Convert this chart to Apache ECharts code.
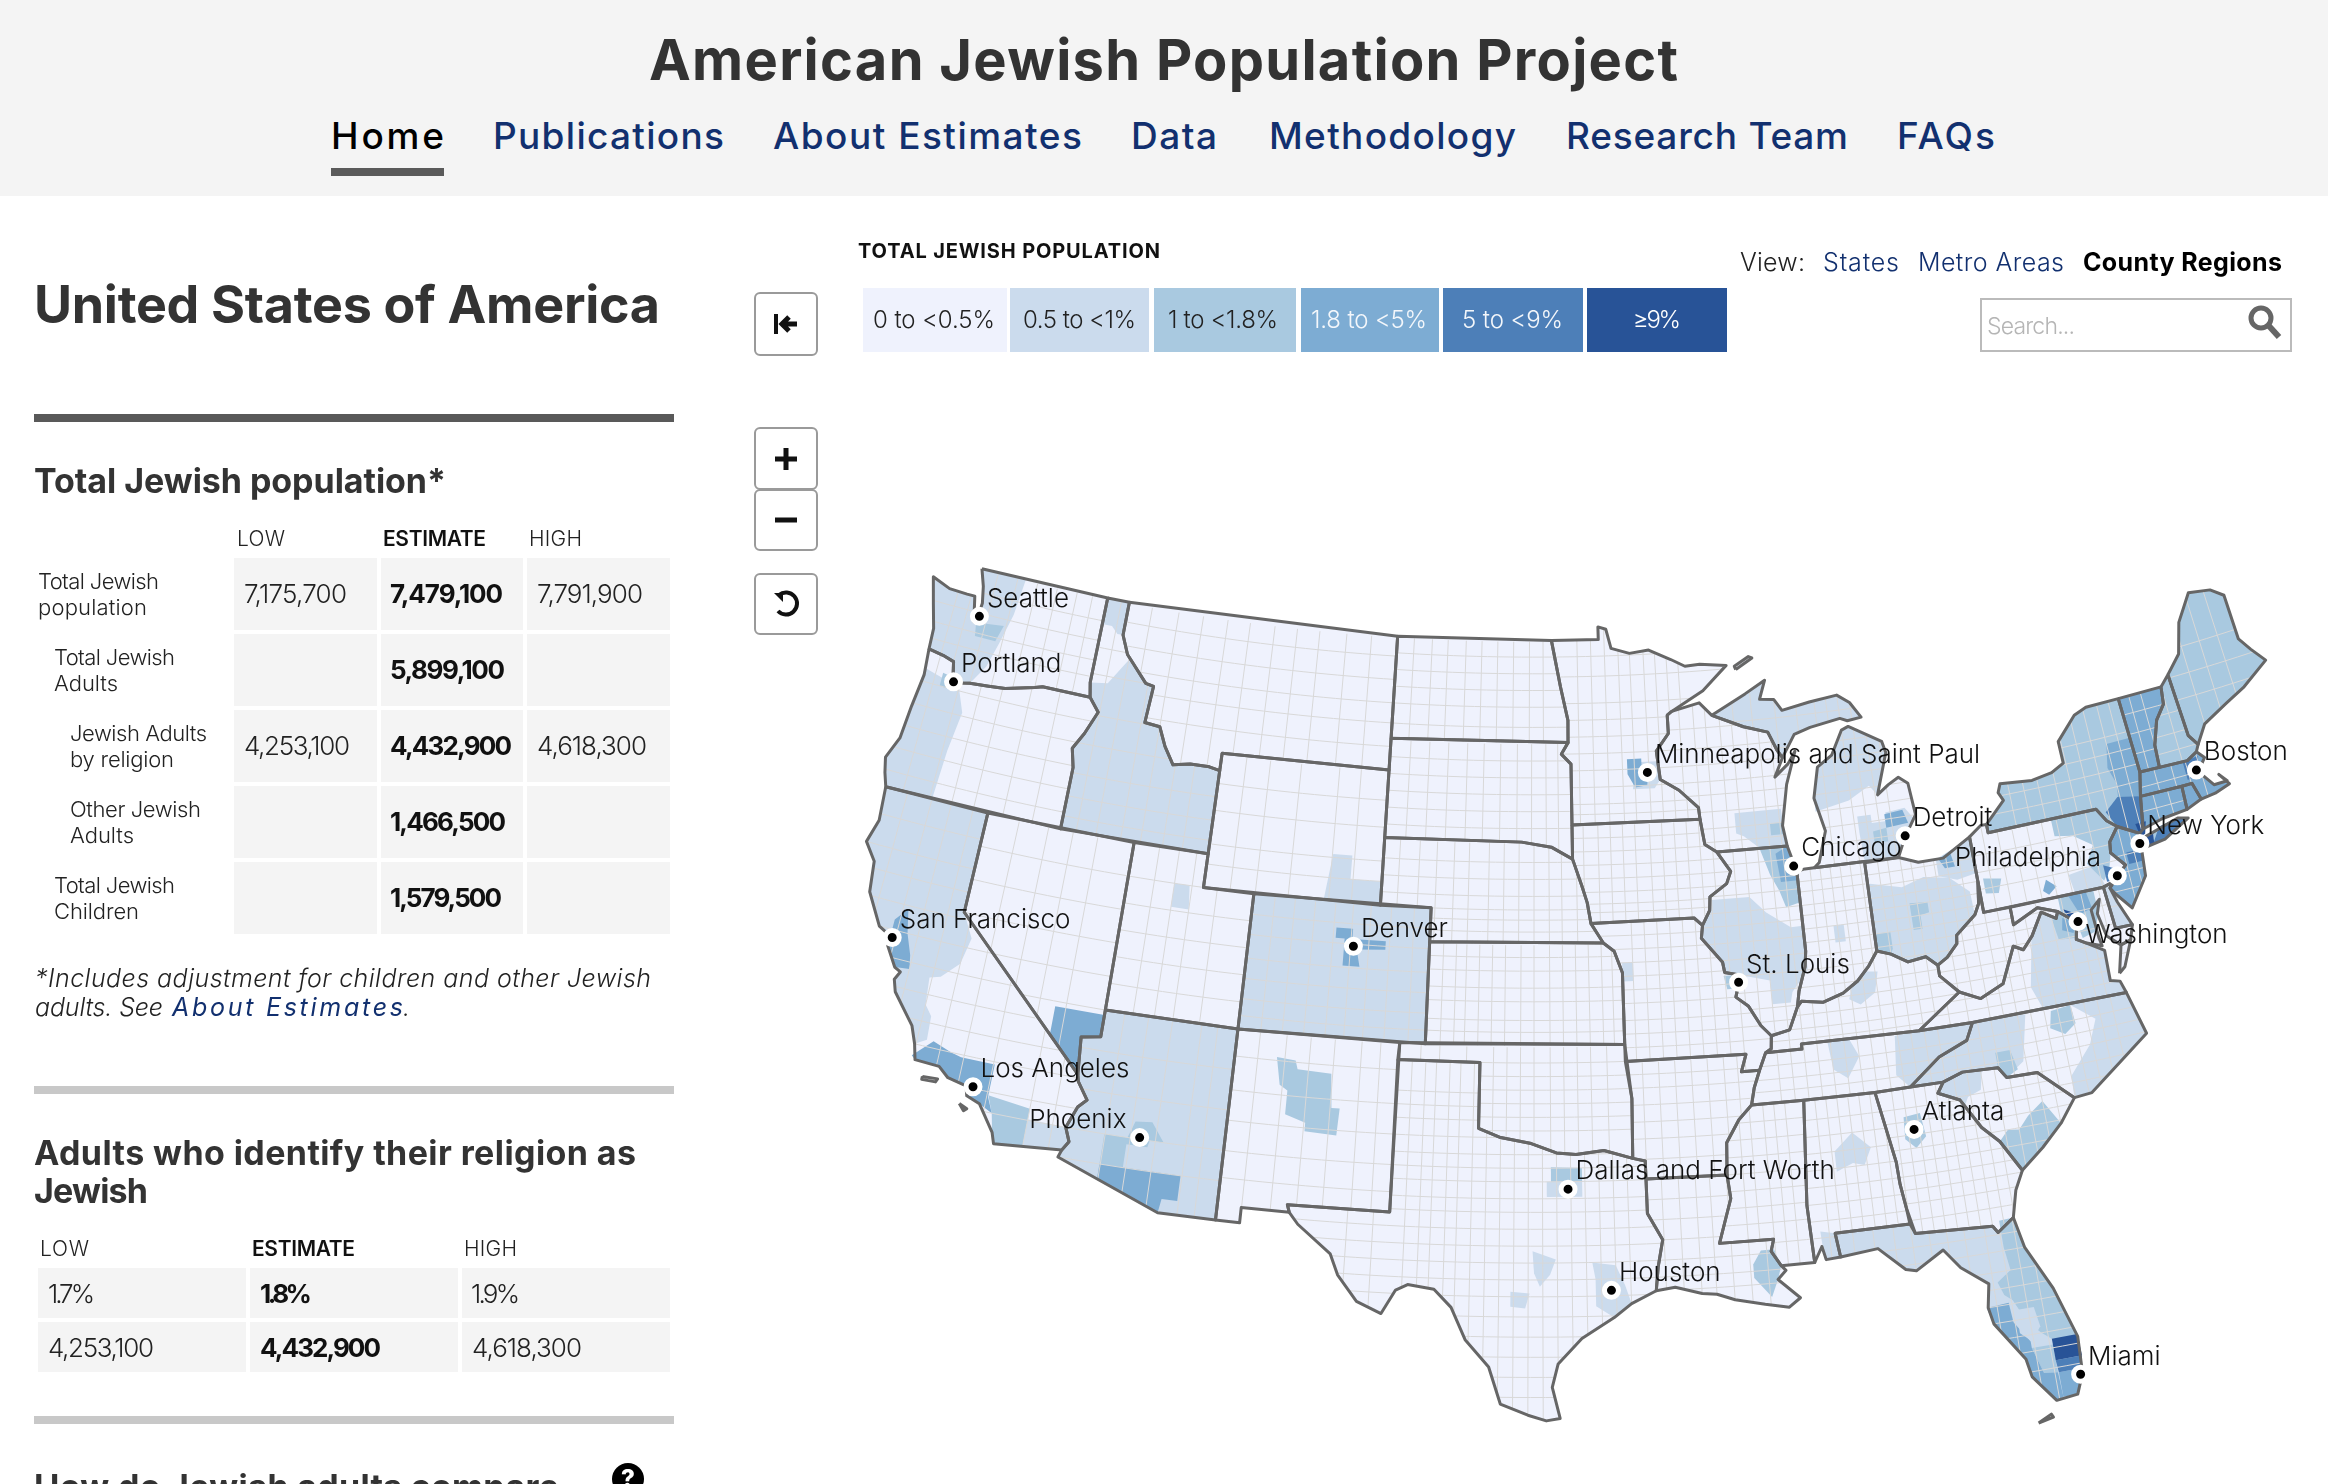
<!doctype html>
<html>
<head>
<meta charset="UTF-8">
<title>American Jewish Population Project</title>
<script src="https://cdn.jsdelivr.net/npm/echarts@6/dist/echarts.min.js"></script>
<style>
html,body{margin:0;padding:0;background:#fff;width:2328px;height:1484px;overflow:hidden;font-family:Inter,"Noto Sans",sans-serif;}
#map{position:absolute;left:0;top:0;width:2328px;height:1484px;}
#page{position:absolute;left:0;top:0;width:2328px;height:1484px;overflow:hidden;pointer-events:none;}
.box{position:absolute;}
.t{position:absolute;white-space:nowrap;transform:translateY(-50%);line-height:1.2;}
.btn{position:absolute;border:2px solid #9a9a9a;border-radius:6px;box-sizing:border-box;background:#fff;display:flex;align-items:center;justify-content:center;}
</style>
</head>
<body>
<div id="map"></div>
<div id="page"></div>
<script>
// state outlines, [lon, lat]
const WA=[[-122.76,49],[-117.03,49],[-117.04,46.42],[-116.92,45.99],[-118.98,46],[-119.3,45.93],[-120.5,45.7],[-121.2,45.65],[-122,45.6],[-122.3,45.55],[-122.75,45.65],[-122.9,46.1],[-123.4,46.2],[-124.05,46.27],[-124.1,46.9],[-124.4,47.6],[-124.73,48.38],[-123.9,48.17],[-123.1,48.15],[-122.75,48.15],[-122.5,47.4],[-122.4,47.5],[-122.35,48],[-122.5,48.5]];
const OR=[[-124.05,46.27],[-123.4,46.2],[-122.9,46.1],[-122.75,45.65],[-122.3,45.55],[-122,45.6],[-121.2,45.65],[-120.5,45.7],[-119.3,45.93],[-118.98,46],[-116.92,45.99],[-116.46,45.6],[-116.85,44.9],[-117.22,44.4],[-117.03,43.85],[-117.03,42],[-124.21,42],[-124.4,42.4],[-124.55,42.84],[-124.2,43.5],[-124.1,44.5],[-123.95,45.5]];
const CA=[[-124.21,42],[-120,42],[-120,39],[-114.63,35],[-114.57,34.8],[-114.14,34.3],[-114.43,34.05],[-114.72,33.4],[-114.52,33],[-114.72,32.72],[-117.12,32.53],[-117.25,32.85],[-117.9,33.6],[-118.4,33.75],[-118.5,34.03],[-119.2,34.15],[-119.6,34.42],[-120.5,34.45],[-120.65,34.9],[-120.9,35.4],[-121.8,36.25],[-121.95,36.6],[-121.8,36.85],[-122.05,36.95],[-122.5,37.5],[-122.5,37.8],[-123,38],[-123.7,38.9],[-123.85,39.8],[-124.35,40.3],[-124.1,41]];
const CA_IS1=[[-120.1,34.02],[-119.55,34.05],[-119.6,33.95],[-120.1,33.93]];
const CA_IS2=[[-118.6,33.48],[-118.3,33.38],[-118.4,33.3]];
const NV=[[-120,42],[-114.04,42],[-114.04,36.2],[-114.75,36.1],[-114.63,35],[-120,39]];
const ID=[[-117.03,49],[-116.05,49],[-116.05,48],[-115.7,47.45],[-114.7,46.7],[-114.35,46.65],[-114.45,45.55],[-113.8,45.5],[-113.45,44.95],[-113,44.45],[-112.3,44.55],[-111.5,44.55],[-111.05,44.48],[-111.05,42],[-117.03,42],[-117.03,43.85],[-117.22,44.4],[-116.85,44.9],[-116.46,45.6],[-116.92,45.99],[-117.04,46.42]];
const MT=[[-116.05,49],[-104.05,49],[-104.05,45],[-111.05,45],[-111.05,44.48],[-111.5,44.55],[-112.3,44.55],[-113,44.45],[-113.45,44.95],[-113.8,45.5],[-114.45,45.55],[-114.35,46.65],[-114.7,46.7],[-115.7,47.45],[-116.05,48]];
const WY=[[-111.05,45],[-104.05,45],[-104.05,41],[-111.05,41]];
const UT=[[-114.04,42],[-111.05,42],[-111.05,41],[-109.05,41],[-109.05,37],[-114.04,37]];
const CO=[[-109.05,41],[-102.05,41],[-102.05,37],[-109.05,37]];
const AZ=[[-114.04,37],[-109.05,37],[-109.05,31.33],[-111.07,31.33],[-114.81,32.5],[-114.72,32.72],[-114.52,33],[-114.72,33.4],[-114.43,34.05],[-114.14,34.3],[-114.57,34.8],[-114.63,35],[-114.75,36.1],[-114.04,36.2]];
const NM=[[-109.05,37],[-103,37],[-103.04,32],[-106.62,32],[-106.53,31.78],[-108.21,31.78],[-108.21,31.33],[-109.05,31.33]];
const ND=[[-104.05,49],[-97.23,49],[-96.85,47.6],[-96.55,46.6],[-96.56,45.94],[-104.05,45.94]];
const SD=[[-104.05,45.94],[-96.56,45.94],[-96.85,45.6],[-96.45,45.3],[-96.45,43.5],[-96.45,42.49],[-97.3,42.85],[-98.5,43],[-104.05,43]];
const NE=[[-104.05,43],[-98.5,43],[-97.3,42.85],[-96.45,42.49],[-96.1,41.7],[-95.9,41.2],[-95.77,40.58],[-95.31,40],[-102.05,40],[-102.05,41],[-104.05,41]];
const KS=[[-102.05,40],[-95.31,40],[-94.9,39.75],[-94.61,39.11],[-94.62,37],[-102.05,37]];
const OK=[[-103,37],[-94.62,37],[-94.43,35.4],[-94.48,33.64],[-95.5,33.9],[-96.5,33.8],[-97.2,33.85],[-98.1,34.13],[-99.2,34.3],[-100,34.56],[-100,36.5],[-103.04,36.5]];
const TX=[[-103.04,36.5],[-100,36.5],[-100,34.56],[-99.2,34.3],[-98.1,34.13],[-97.2,33.85],[-96.5,33.8],[-95.5,33.9],[-94.48,33.64],[-94.04,33.55],[-94.04,33.02],[-94.04,32],[-93.55,31.2],[-93.75,30.4],[-93.85,29.7],[-94.7,29.35],[-95.3,28.95],[-96.4,28.35],[-97.2,27.6],[-97.4,26.9],[-97.15,25.97],[-97.6,25.9],[-98.2,26.07],[-99.1,26.4],[-99.5,27.5],[-100.3,28.3],[-100.8,29.25],[-101.4,29.77],[-102.3,29.88],[-102.7,29.7],[-103.15,28.98],[-104,29.3],[-104.7,30.05],[-105,30.65],[-106.2,31.45],[-106.53,31.78],[-106.62,32],[-103.04,32]];
const MN=[[-97.23,49],[-95.15,49],[-95.15,49.38],[-94.8,49.3],[-94.6,48.72],[-93.8,48.55],[-92.95,48.62],[-92,48.3],[-91.4,48.07],[-90.75,48.1],[-89.6,48],[-90.7,47.3],[-92.1,46.75],[-92.3,46.65],[-92.3,46.1],[-92.85,45.6],[-92.75,44.75],[-92,44.4],[-91.25,43.85],[-91.22,43.5],[-96.45,43.5],[-96.45,45.3],[-96.85,45.6],[-96.56,45.94],[-96.55,46.6],[-96.85,47.6]];
const IA=[[-96.45,43.5],[-91.22,43.5],[-91.1,42.75],[-90.64,42.5],[-90.15,41.9],[-90.35,41.55],[-91.05,41.2],[-91.1,40.8],[-91.42,40.38],[-91.73,40.61],[-95.77,40.58],[-95.9,41.2],[-96.1,41.7],[-96.45,42.49]];
const MO=[[-95.77,40.58],[-91.73,40.61],[-91.42,40.38],[-91.5,40],[-90.75,39.25],[-90.7,38.95],[-90.2,38.85],[-90.2,38.6],[-90.35,38.2],[-89.9,37.9],[-89.5,37.3],[-89.15,36.98],[-89.2,36.6],[-89.42,36.5],[-89.7,36],[-90.37,36],[-90.15,36.5],[-94.62,36.5],[-94.62,37],[-94.61,39.11],[-94.9,39.75],[-95.31,40]];
const AR=[[-94.62,36.5],[-90.15,36.5],[-90.37,36],[-89.7,36],[-89.95,35.5],[-90.1,35],[-90.6,34.6],[-91.1,33.95],[-91.17,33],[-94.04,33.02],[-94.04,33.55],[-94.48,33.64],[-94.43,35.4]];
const LA=[[-94.04,33.02],[-91.17,33],[-91.1,32.3],[-91.6,31],[-89.73,31],[-89.85,30.65],[-89.55,30.2],[-89.4,30.05],[-89.7,29.8],[-89,29.2],[-89.4,28.95],[-90.2,29.1],[-91.2,29.3],[-91.8,29.5],[-92.3,29.55],[-93.2,29.78],[-93.85,29.7],[-93.75,30.4],[-93.55,31.2],[-94.04,32]];
const WI=[[-92.3,46.65],[-92.1,46.75],[-90.9,46.95],[-90.4,46.55],[-89.1,46.13],[-88.1,45.9],[-87.8,45.35],[-87.6,45.1],[-88,44.55],[-87.4,44.9],[-87.05,45.25],[-87.55,44.3],[-87.9,43.1],[-87.8,42.49],[-90.64,42.5],[-91.1,42.75],[-91.22,43.5],[-91.25,43.85],[-92,44.4],[-92.75,44.75],[-92.85,45.6],[-92.3,46.1]];
const IL=[[-90.64,42.5],[-87.8,42.49],[-87.53,41.72],[-87.53,39.35],[-87.62,38.9],[-87.95,38.2],[-88.07,37.75],[-88.45,37.1],[-89.15,36.98],[-89.5,37.3],[-89.9,37.9],[-90.35,38.2],[-90.2,38.6],[-90.2,38.85],[-90.7,38.95],[-90.75,39.25],[-91.5,40],[-91.42,40.38],[-91.1,40.8],[-91.05,41.2],[-90.35,41.55],[-90.15,41.9]];
const IN=[[-87.53,41.72],[-87.2,41.76],[-86.82,41.76],[-84.81,41.76],[-84.82,39.1],[-85.2,38.7],[-85.7,38.3],[-86.3,38],[-87.1,37.8],[-87.9,37.9],[-88.07,37.75],[-87.95,38.2],[-87.62,38.9],[-87.53,39.35]];
const OH=[[-84.81,41.72],[-83.45,41.73],[-82.7,41.5],[-81.7,41.5],[-80.52,41.98],[-80.52,40.64],[-80.65,40],[-80.87,39.7],[-81.7,39.2],[-81.75,38.95],[-82.2,38.6],[-82.6,38.42],[-83,38.72],[-83.7,38.65],[-84.3,38.95],[-84.82,39.1]];
const MI_LOW=[[-86.82,41.76],[-84.81,41.76],[-83.45,41.73],[-83.1,42.25],[-82.5,42.9],[-82.6,43.85],[-82.95,44.07],[-83.4,43.9],[-83.9,43.65],[-83.3,44.85],[-83.4,45.2],[-84.7,45.78],[-85,45.7],[-85.55,45],[-86.2,44.7],[-86.5,43.8],[-86.2,42.8],[-86.6,41.9]];
const MI_UP=[[-90.4,46.55],[-89.1,46.13],[-88.1,45.9],[-87.8,45.35],[-87.6,45.1],[-87,45.75],[-86.3,45.9],[-85,46.05],[-84.7,45.95],[-84.1,46],[-84.5,46.48],[-85,46.75],[-86.2,46.65],[-87.4,46.5],[-87.7,46.85],[-88.3,46.9],[-88,47.45],[-88.9,47.1]];
const MI_ISLE=[[-89.2,47.85],[-88.45,48.15],[-88.6,48.2],[-89.25,47.95]];
const KY=[[-89.42,36.5],[-89.2,36.6],[-89.15,36.98],[-88.45,37.1],[-88.07,37.75],[-87.9,37.9],[-87.1,37.8],[-86.3,38],[-85.7,38.3],[-85.2,38.7],[-84.82,39.1],[-84.3,38.95],[-83.7,38.65],[-83,38.72],[-82.6,38.42],[-82.6,38.1],[-81.97,37.54],[-83.68,36.6],[-88.07,36.65],[-88.07,36.5]];
const TN=[[-90.1,35],[-89.95,35.5],[-89.7,36],[-89.42,36.5],[-88.07,36.5],[-88.07,36.65],[-83.68,36.6],[-81.68,36.59],[-82,36.1],[-83.1,35.75],[-84.3,35],[-85.6,34.98],[-88.2,35]];
const WV=[[-80.52,40.64],[-80.52,39.72],[-79.48,39.72],[-79.48,39.2],[-78.45,39.55],[-77.72,39.32],[-77.83,39.13],[-78.35,39.4],[-78.87,38.77],[-79.3,38.42],[-79.65,38.58],[-80.3,37.55],[-81.22,37.24],[-81.97,37.54],[-82.6,38.1],[-82.6,38.42],[-82.2,38.6],[-81.75,38.95],[-81.7,39.2],[-80.87,39.7],[-80.65,40]];
const VA=[[-83.68,36.6],[-81.97,37.54],[-81.22,37.24],[-80.3,37.55],[-79.65,38.58],[-79.3,38.42],[-78.87,38.77],[-78.35,39.4],[-77.83,39.13],[-77.72,39.32],[-77.1,38.9],[-77.25,38.4],[-76.95,38.25],[-76.3,37.9],[-76.35,37],[-76,36.92],[-75.87,36.55],[-81.68,36.59]];
const VA_SHORE=[[-75.95,37.15],[-75.65,37.95],[-75.25,38.03],[-75.7,37.3]];
const NC=[[-84.3,35],[-83.1,35.75],[-82,36.1],[-81.68,36.59],[-75.87,36.55],[-75.5,35.25],[-76.5,34.7],[-77.9,33.9],[-78.55,33.86],[-79.68,34.8],[-80.8,34.82],[-81.05,35.15],[-82.35,35.2],[-83.1,35]];
const SC=[[-83.1,35],[-82.35,35.2],[-81.05,35.15],[-80.8,34.82],[-79.68,34.8],[-78.55,33.86],[-79.2,33.2],[-80,32.6],[-80.85,32.05],[-81.45,33],[-82,33.5],[-82.6,34.4],[-83.35,34.7]];
const GA=[[-85.6,34.98],[-84.3,35],[-83.1,35],[-83.35,34.7],[-82.6,34.4],[-82,33.5],[-81.45,33],[-80.85,32.05],[-81.2,31.5],[-81.45,30.72],[-82.05,30.36],[-82.2,30.57],[-84.86,30.7],[-85.05,31.5],[-85.15,32.2],[-85.18,32.87]];
const FL=[[-87.6,31],[-85,31],[-84.86,30.7],[-82.2,30.57],[-82.05,30.36],[-81.45,30.72],[-81.25,29.8],[-80.55,28.45],[-80.05,26.9],[-80.12,25.8],[-80.4,25.2],[-81.1,25.13],[-81.75,25.95],[-81.85,26.5],[-82.7,27.7],[-82.8,28.2],[-82.65,28.9],[-83.5,29.5],[-84,30.1],[-85,29.6],[-85.35,29.68],[-86.2,30.4],[-87.5,30.28]];
const FL_KEYS=[[-81.8,24.55],[-81.35,24.75],[-81.3,24.65]];
const AL=[[-88.2,35],[-85.6,34.98],[-85.18,32.87],[-85.15,32.2],[-85.05,31.5],[-85,31],[-87.6,31],[-87.5,30.28],[-88,30.25],[-88.1,30.65],[-88.4,30.2],[-88.47,31.9]];
const MS=[[-90.1,35],[-88.2,35],[-88.47,31.9],[-88.4,30.2],[-89.55,30.2],[-89.85,30.65],[-89.73,31],[-91.6,31],[-91.1,32.3],[-91.17,33],[-91.1,33.95],[-90.6,34.6]];
const PA=[[-80.52,41.98],[-80,42.25],[-79.76,42.25],[-79.76,42],[-75.35,42],[-75.05,41.6],[-74.7,41.36],[-75.13,40.97],[-75.2,40.65],[-74.75,40.2],[-75.4,39.8],[-75.79,39.72],[-80.52,39.72]];
const NY=[[-79.76,42.25],[-79.76,42],[-75.35,42],[-75.05,41.6],[-74.7,41.36],[-73.9,41],[-73.73,41.1],[-73.5,42.05],[-73.27,42.75],[-73.3,43.6],[-73.35,45.01],[-74.75,45],[-75.3,44.85],[-76.2,44.2],[-76.2,43.55],[-76.75,43.35],[-77.6,43.25],[-78.9,43.35],[-79.05,43.1],[-78.9,42.85]];
const NY_LI=[[-74.03,40.6],[-73.7,40.87],[-72.3,41.15],[-71.9,41.07],[-73,40.65],[-73.9,40.55]];
const NJ=[[-74.7,41.36],[-73.9,41],[-74.15,40.65],[-74,40.45],[-74.1,39.75],[-74.9,38.93],[-75.4,39.45],[-75.55,39.65],[-74.75,40.2],[-75.2,40.65],[-75.13,40.97]];
const DE=[[-75.79,39.72],[-75.4,39.8],[-75.55,39.65],[-75.4,39.2],[-75.05,38.45],[-75.7,38.46]];
const MD=[[-79.48,39.72],[-75.79,39.72],[-75.7,38.46],[-75.05,38.45],[-75.25,38.03],[-75.65,37.95],[-76.1,38.3],[-76.25,39],[-76.05,39.4],[-76.45,39.15],[-76.4,38.3],[-76.35,38.05],[-76.95,38.25],[-77.25,38.4],[-77.1,38.9],[-77.72,39.32],[-78.45,39.55],[-79.48,39.2]];
const CT=[[-73.5,42.05],[-71.8,42.02],[-71.85,41.32],[-72.9,41.25],[-73.73,41.1]];
const RI=[[-71.8,42.02],[-71.38,42.02],[-71.2,41.5],[-71.85,41.32]];
const MA=[[-73.5,42.05],[-73.27,42.75],[-71.3,42.7],[-70.85,42.88],[-70.6,42.65],[-71,42.3],[-70.55,41.8],[-70,41.8],[-70.25,42.05],[-69.95,41.7],[-70.6,41.55],[-71.2,41.5],[-71.38,42.02],[-71.8,42.02]];
const VT=[[-73.35,45.01],[-71.5,45.01],[-71.6,44.5],[-72.05,44.1],[-72.4,43.4],[-72.46,42.73],[-73.27,42.75],[-73.3,43.6]];
const NH=[[-71.5,45.01],[-71.08,45.3],[-70.98,43.4],[-70.7,43.07],[-70.85,42.88],[-71.3,42.7],[-72.46,42.73],[-72.4,43.4],[-72.05,44.1],[-71.6,44.5]];
const ME=[[-71.08,45.3],[-70.4,45.8],[-70,46.7],[-69.23,47.46],[-68.3,47.35],[-67.8,47.07],[-67.8,45.7],[-67.45,45.3],[-67,44.85],[-68.2,44.3],[-69.1,44],[-70.2,43.6],[-70.7,43.07],[-70.98,43.4]];

const stateRings={WA:[WA],OR:[OR],CA:[CA,CA_IS1,CA_IS2],NV:[NV],ID:[ID],MT:[MT],WY:[WY],UT:[UT],CO:[CO],AZ:[AZ],NM:[NM],ND:[ND],SD:[SD],NE:[NE],KS:[KS],OK:[OK],TX:[TX],MN:[MN],IA:[IA],MO:[MO],AR:[AR],LA:[LA],WI:[WI],IL:[IL],IN:[IN],OH:[OH],MI:[MI_LOW,MI_UP,MI_ISLE],KY:[KY],TN:[TN],WV:[WV],VA:[VA,VA_SHORE],NC:[NC],SC:[SC],GA:[GA],FL:[FL,FL_KEYS],AL:[AL],MS:[MS],PA:[PA],NY:[NY,NY_LI],NJ:[NJ],DE:[DE],MD:[MD],CT:[CT],RI:[RI],MA:[MA],VT:[VT],NH:[NH],ME:[ME]};

// county regions that are shaded above the lowest class, one list per legend class
const halfRings=[
 [[-122.76,49],[-120.75,49],[-120.9,47.9],[-121.2,47],[-121.5,46.2],[-122,45.6],[-122.3,45.55],[-122.75,45.65],[-122.9,46.1],[-123.4,46.2],[-124.05,46.27],[-124.1,46.9],[-124.4,47.6],[-124.73,48.38],[-123.9,48.17],[-123.1,48.15],[-122.75,48.15],[-122.5,47.4],[-122.4,47.5],[-122.35,48],[-122.5,48.5]],
 [[-124,45.7],[-122.4,45.4],[-122,44.7],[-122.2,43.5],[-122.3,42],[-124.21,42],[-124.4,42.4],[-124.55,42.84],[-124.2,43.5],[-124.1,44.5]],
 [[-117.03,49],[-116.05,49],[-116.05,48],[-116.3,48],[-116.6,48.2],[-117.03,48.2]],
 [[-116.3,46.5],[-115.6,47.3],[-114.7,46.7],[-114.35,46.65],[-114.45,45.55],[-113.8,45.5],[-113.45,44.95],[-113,44.45],[-112.3,44.55],[-111.5,44.55],[-111.05,44.48],[-111.05,42],[-117.03,42],[-117.03,43.85],[-117.22,44.4],[-116.85,44.9],[-116.46,45.6],[-116.92,45.99],[-117.04,46.42]],
 [[-124.21,42],[-120,42],[-120,39],[-119.5,38.3],[-119.7,37.5],[-120.3,37],[-120.7,36.9],[-120.6,36.1],[-120.3,35.8],[-120.25,35.1],[-120.65,34.9],[-120.9,35.4],[-121.8,36.25],[-121.95,36.6],[-121.8,36.85],[-122.05,36.95],[-122.5,37.5],[-122.5,37.8],[-123,38],[-123.7,38.9],[-123.85,39.8],[-124.35,40.3],[-124.1,41]],
 [[-116.1,33.43],[-114.72,33.4],[-114.52,33],[-114.72,32.72],[-116.1,32.62]],
 [[-112.2,41],[-111.6,41],[-111.5,40.3],[-112.2,40.3]],
 [[-106.07,42.4],[-105.3,42.4],[-105.3,41.7],[-104.05,41.7],[-104.05,41],[-106.3,41]],
 CO,AZ,
 [[-97.55,33],[-96.3,33],[-96.3,32.55],[-97.55,32.55]],
 [[-98.05,30.95],[-97.25,30.7],[-97.45,30.25],[-97.8,29.9],[-98,30.3]],
 [[-98.8,29.75],[-98.15,29.7],[-98.3,29.25],[-98.8,29.3]],
 [[-96,30.6],[-95.2,30.5],[-94.9,29.9],[-94.7,29.35],[-95.3,28.95],[-95.9,29.3],[-95.9,30.1]],
 [[-93.8,45.3],[-92.85,45.3],[-92.75,44.75],[-93,44.5],[-93.9,44.5]],
 MI_UP,
 [[-86.5,43.4],[-85.1,43.6],[-84.2,43.95],[-83.9,43.65],[-83.3,44.85],[-83.4,45.2],[-84.7,45.78],[-85,45.7],[-85.55,45],[-86.2,44.7],[-86.5,43.8]],
 [[-89.8,43.6],[-87.9,43.6],[-87.8,42.49],[-88.9,42.5],[-89.5,42.9],[-89.8,43]],
 [[-91,41.1],[-89.5,41.1],[-88.9,40.6],[-88,40.1],[-87.53,40.1],[-87.53,38.8],[-88.2,38.2],[-88.3,37.9],[-89,37.9],[-89,38.6],[-90.2,38.85],[-90.7,38.95],[-90.75,39.25],[-91.5,40],[-91.42,40.38],[-91.1,40.8]],
 [[-94.61,39.4],[-94.2,39.4],[-94.2,38.85],[-94.61,38.85]],
 [[-86.35,40],[-85.95,40],[-85.95,39.5],[-86.35,39.5]],
 [[-85.95,38.15],[-85.4,38.55],[-84.9,38.5],[-85.1,37.9],[-85.7,37.6],[-86.1,37.8]],
 [[-84.85,43.1],[-84.3,43.1],[-84.3,42.85],[-83.7,42.85],[-83.7,43.1],[-82.9,43.15],[-82.6,42.8],[-83.1,42.25],[-83.45,41.73],[-84.8,41.76],[-84.85,42.6]],
 [[-82,41.5],[-80.52,41.95],[-80.52,40.9],[-81.3,40.8],[-82,41]],
 [[-84.81,41.1],[-83.5,40.85],[-82.6,41.05],[-81.6,40.9],[-80.9,40.4],[-80.87,39.7],[-81.7,39.2],[-81.75,38.95],[-82.2,38.6],[-82.6,38.42],[-83,38.72],[-83.7,38.65],[-84.3,38.95],[-84.82,39.1]],
 [[-77,40.3],[-75.9,40.4],[-75.7,39.75],[-76.9,39.72]],
 DE,
 [[-78.9,38.75],[-78.35,39.4],[-77.83,39.13],[-77.72,39.32],[-77.1,38.9],[-77.25,38.4],[-76.95,38.25],[-76.3,37.9],[-76.35,37],[-76,36.92],[-75.87,36.55],[-79,36.58],[-79.3,37.3]],
 [[-84.6,36.55],[-83.68,36.6],[-81.68,36.59],[-82,36.1],[-83.1,35.75],[-84.3,35],[-84.75,35.4]],
 [[-84.3,35],[-83.1,35.75],[-82,36.1],[-81.68,36.59],[-79.7,36.55],[-80.1,35.2],[-80.8,34.82],[-81.05,35.15],[-82.35,35.2],[-83.1,35]],
 [[-87.1,36.6],[-86.3,36.65],[-86,36.1],[-86.5,35.5],[-87,35.8]],
 [[-78,36.55],[-75.87,36.55],[-75.5,35.25],[-76.5,34.7],[-77.9,33.9],[-78.55,33.86],[-78.5,34.5],[-77.6,35.3],[-77.2,36]],
 [[-83.1,35],[-82.35,35.2],[-81.65,35.15],[-81.8,34.6],[-82.3,34.45],[-82.6,34],[-82.6,34.4],[-83.35,34.7]],
 [[-87.3,33.4],[-86.6,33.9],[-86,33.4],[-86.3,32.9],[-86.7,33],[-87.3,32.8]],
 FL,
 [[-88.1,31.1],[-87.6,31],[-87.5,30.28],[-88.05,30.25]],
 [[-86.1,31],[-85,31],[-85,30.9],[-86.1,30.9]],
];
const oneRings=[
 [[-122.4,47.4],[-121.2,47.5],[-121.4,47],[-122.3,47]],
 [[-123.2,45.7],[-122.4,45.6],[-122.6,45.25],[-123.2,45.3]],
 [[-117.65,33.9],[-116.1,33.75],[-116.1,32.62],[-117.12,32.53],[-117.25,32.85],[-117.4,33.4]],
 [[-113.33,33.4],[-112.5,33.4],[-112.3,33.9],[-111.7,33.95],[-111.2,33.4],[-111.7,33.4],[-111.75,33.2],[-112.5,33.2],[-112.5,32.5],[-113.33,32.5]],
 [[-107.5,36.3],[-106.8,36.25],[-106.7,36],[-105.45,35.95],[-105.35,34.95],[-105.05,34.95],[-105.1,34.15],[-106.25,34.2],[-106.25,34.45],[-107,34.65],[-107,35.35],[-107.3,35.5]],
 [[-97.4,33.43],[-96.3,33.4],[-96.3,33],[-97.4,33]],
 [[-88.4,43.2],[-87.9,43.2],[-87.85,42.85],[-88.4,42.85]],
 [[-88.9,42.45],[-87.8,42.49],[-87.53,41.72],[-87.53,40.8],[-88.1,40.7],[-88.3,41.2],[-88.6,41.7]],
 [[-90.75,38.85],[-90.2,38.85],[-90.2,38.45],[-90.65,38.45]],
 [[-84.3,42.6],[-83.75,42.65],[-83.75,42.25],[-84.3,42.25]],
 [[-83.3,40.35],[-82.6,40.3],[-82.6,40],[-82.95,39.95],[-82.95,39.55],[-83.3,39.55]],
 [[-84.82,39.6],[-84.2,39.6],[-84.2,39.1],[-84.3,38.95],[-84.82,39.1]],
 [[-80.3,40.7],[-79.6,40.6],[-79.8,40.2],[-80.3,40.25]],
 NY,NY_LI,ME,NH,
 [[-76.2,42],[-75.35,42],[-75.05,41.6],[-74.7,41.36],[-75.13,40.97],[-75.2,40.65],[-75.4,40.2],[-75.7,39.9],[-76.2,40.5],[-75.8,41],[-76.5,41.4],[-77.2,41.5],[-77.2,42]],
 [[-77.6,39.72],[-76.2,39.72],[-76.2,39],[-76.5,38.5],[-77,38.4],[-77.1,38.9],[-77.6,39.3]],
 [[-78,39.1],[-77.72,39.32],[-77.1,38.9],[-77.3,38.45],[-77.9,38.5]],
 [[-78.75,36.5],[-78,36.55],[-77.95,36],[-78.4,35.75],[-78.9,36]],
 [[-81.05,35.6],[-80.5,35.6],[-80.35,35],[-80.8,34.82],[-81.05,35.15]],
 [[-79.2,33.2],[-80,32.6],[-80.85,32.05],[-81.45,33],[-81.1,33.3],[-80.7,33.25],[-80.3,33.6],[-79.7,33.95]],
 [[-84.7,34.15],[-84.1,34.2],[-84,33.5],[-84.4,33.2],[-84.75,33.5]],
 [[-81.95,30.7],[-81.45,30.72],[-81.25,29.8],[-80.55,28.45],[-80.05,26.9],[-80.9,26.97],[-81.2,27.2],[-81.6,27.6],[-81.95,28.3],[-82.2,28.5],[-82.35,28.9],[-81.85,29.2],[-81.95,29.9]],
 [[-81.6,26.8],[-80.9,26.8],[-80.9,25.95],[-81.35,26]],
 [[-90.2,30.7],[-89.75,30.7],[-89.55,30.2],[-89.7,29.8],[-89.95,29.3],[-90.5,29.9],[-90.5,30.3]],
];
const twoRings=[
 [[-122.5,38.3],[-122.1,38.7],[-121.9,38],[-121.6,37.4],[-121.5,37],[-122.05,36.95],[-122.5,37.5],[-122.5,37.8]],
 [[-120.65,34.55],[-120,35.1],[-119.3,34.9],[-118.9,34.82],[-117.65,34.82],[-117.65,33.85],[-117.4,33.4],[-117.9,33.6],[-118.4,33.75],[-118.5,34.03],[-119.2,34.15],[-119.6,34.42],[-120.5,34.45]],
 [[-115.9,36.85],[-114.04,36.85],[-114.04,36.2],[-114.75,36.1],[-114.63,35],[-115.9,36]],
 [[-113.33,32.5],[-110.45,32.5],[-110.45,31.75],[-111,31.75],[-111.07,31.33],[-113.33,32.04]],
 [[-105.7,40.25],[-105.05,40.25],[-105.05,39.95],[-103.75,39.95],[-103.75,39.7],[-104.85,39.65],[-104.7,39.15],[-105.35,39.15],[-105.35,39.95],[-105.7,39.95]],
 [[-94.1,45.4],[-93.5,45.4],[-93.5,45.15],[-93.25,45],[-93.3,44.6],[-93.8,44.55],[-94.1,44.95]],
 [[-88.3,42.3],[-87.8,42.49],[-87.53,41.72],[-87.53,41.45],[-88.2,41.45]],
 [[-83.75,43.05],[-83,43.1],[-82.85,42.7],[-83.75,42.65]],
 [[-81.9,41.5],[-81.4,41.65],[-81.3,41.2],[-81.7,41.2]],
 [[-77.9,40.3],[-77.55,40.05],[-77.9,39.85],[-78.1,40]],
 [[-74.3,43.8],[-73.35,43.8],[-73.27,42.75],[-73.45,42.05],[-74.4,42.05],[-74.3,42.6],[-74.5,43.1]],
 VT,MA,CT,RI,NJ,
 [[-77.2,39.72],[-76.5,39.72],[-76.4,39.2],[-76.9,39.1]],
 [[-77.6,39.1],[-77.1,38.9],[-77.3,38.6],[-77.7,38.75]],
 [[-82.85,28.2],[-82.1,28.25],[-82.05,27.65],[-81.6,27],[-81.6,26.8],[-81.35,26],[-80.9,25.95],[-80.87,25.2],[-81.1,25.13],[-81.75,25.95],[-81.85,26.5],[-82.7,27.7]],
 [[-80.87,25.95],[-80.12,25.95],[-80.12,25.8],[-80.4,25.2],[-80.87,25.2]],
];
const fiveRings=[
 [[-75,41.85],[-74.4,42.2],[-73.5,42.05],[-73.6,41.3],[-73.9,41],[-74.7,41.36]],
 [[-75.6,40.35],[-75,40.1],[-75.3,39.85],[-75.6,39.85]],
 [[-74.6,40.55],[-74.1,40.55],[-74,40.2],[-74.6,40.2]],
 [[-73.1,41.05],[-72.3,41.15],[-71.9,41.07],[-73,40.65],[-73.5,40.6]],
 [[-71.5,42.7],[-70.85,42.75],[-71,42.2],[-71.5,42.15]],
 [[-80.9,26.32],[-80.03,26.32],[-80.12,25.95],[-80.87,25.95]],
];
const nineRings=[
 [[-73.98,41.3],[-73.55,41.3],[-73.7,40.95],[-73.9,40.9]],
 [[-73.75,40.85],[-73.4,40.9],[-73.45,40.6],[-73.9,40.55]],
 [[-77.5,39.35],[-77.05,39.15],[-76.95,38.95],[-77.3,39]],
 [[-80.9,26.97],[-80.05,26.97],[-80.03,26.32],[-80.9,26.32]],
];
const halfPatches=[
 [[-81.9,28],[-81.3,28],[-81.2,27.4],[-81.55,27],[-81.9,27.3]],
];
const bandValues=[0.7,1.4,3,7,12,0.7];
const bands=[halfRings,oneRings,twoRings,fiveRings,nineRings,halfPatches];
const baseValue=0.25;

// county lines, estimated per state: [meridians],[parallels]
const countyLines={
 WA:[[-123.5,-122.9,-122,-121.1,-120.2,-119.3,-118.4,-117.7],[48.3,47.7,47.1,46.6]],
 OR:[[-123.5,-122.4,-121.5,-120.6,-119.4,-118.2],[45.3,44.6,43.9,43.2,42.5]],
 CA:[[-123.3,-122.3,-121.5,-120.6,-119.7,-118.8,-117.7,-116.1,-115.2],[41.2,40.3,39.6,38.8,38,37.2,36.4,35.6,34.9,34,33.4]],
 NV:[[-118.7,-117.5,-116.5,-115.5],[41,40,39,38,37]],
 ID:[[-116.4,-115.6,-114.6,-113.8,-112.9,-112.1],[47.5,46.7,45.5,44.6,43.7,43,42.4]],
 MT:[[-115,-113.8,-112.7,-111.6,-110.6,-109.5,-108.5,-107.5,-106.3,-105.2],[48.4,47.7,47,46.4,45.7]],
 WY:[[-110,-109,-107.7,-106.1,-105.2],[44.1,43.3,42.3,41.7]],
 UT:[[-113,-112.2,-111.5,-110.5],[41,40.2,39.4,38.6,37.8]],
 CO:[[-108.2,-107.4,-106.6,-105.8,-105.1,-104.4,-103.6,-102.7],[40.4,39.8,39.1,38.5,37.9,37.4]],
 AZ:[[-113.3,-112.4,-111.5,-110.4,-109.8],[35.8,34.6,33.4,32.5]],
 NM:[[-108.2,-107.2,-106.3,-105.4,-104.4,-103.7],[36.2,35.2,34.3,33.4,32.6]],
 ND:[[-103.3,-102.5,-101.8,-101,-100.3,-99.6,-98.9,-98.2,-97.6],[48.5,48,47.5,47,46.4]],
 SD:[[-103.2,-102.4,-101.6,-100.8,-100.1,-99.4,-98.7,-98.1,-97.5,-97],[45.4,44.9,44.4,43.9,43.4]],
 NE:[[-103.4,-102.6,-101.9,-101.2,-100.6,-99.8,-99.2,-98.6,-98,-97.4,-96.9,-96.3],[42.4,41.9,41.4,41,40.7,40.35]],
 KS:[[-101.5,-101,-100.6,-100.1,-99.6,-99.1,-98.5,-98,-97.4,-96.9,-96.4,-95.9,-95.4,-95],[39.6,39.2,38.7,38.3,37.75,37.4]],
 OK:[[-102.2,-101.5,-100.5,-99.5,-99,-98.5,-98,-97.4,-96.9,-96.4,-95.9,-95.3],[36.5,36.1,35.7,35.3,34.9,34.5]],
 TX:[[-104.5,-103.6,-102.5,-102,-101.6,-101.1,-100.7,-100.2,-99.7,-99.2,-98.7,-98.2,-97.7,-97.2,-96.7,-96.2,-95.7,-95.2,-94.7],[35.6,35.2,34.8,34.3,33.8,33.4,33,32.5,32.1,31.6,31.1,30.6,30.1,29.6,29,28.4,27.8,27.2,26.6]],
 MN:[[-96.1,-95.5,-94.9,-94.3,-93.8,-93.2,-92.7,-92.2,-91.7],[48.5,47.9,47.1,46.6,46.1,45.6,45.1,44.6,44.1,43.8]],
 IA:[[-96,-95.4,-94.9,-94.4,-93.9,-93.3,-92.8,-92.3,-91.8,-91.3,-90.8],[43.1,42.7,42.3,41.9,41.5,41.15,40.9]],
 MO:[[-94.2,-93.7,-93.2,-92.7,-92.2,-91.7,-91.2,-90.7,-90.2],[40.2,39.8,39.4,39,38.6,38.2,37.7,37.3,36.9]],
 AR:[[-94,-93.4,-92.8,-92.2,-91.6,-91,-90.5],[36.1,35.7,35.2,34.7,34.2,33.6]],
 LA:[[-93.5,-92.9,-92.3,-91.8,-91.2,-90.6,-90],[32.4,31.8,31.2,30.6,30.1,29.7]],
 WI:[[-91.8,-91.2,-90.7,-90.1,-89.6,-89,-88.5,-88],[46.2,45.6,45.1,44.6,44.2,43.7,43.2,42.8]],
 IL:[[-91,-90.5,-90,-89.5,-89,-88.5,-88],[42.1,41.6,41.2,40.7,40.3,39.8,39.3,38.8,38.3,37.8,37.4]],
 IN:[[-87,-86.6,-86.2,-85.8,-85.4,-85],[41.4,41.1,40.7,40.4,40,39.6,39.2,38.8,38.3]],
 OH:[[-84.3,-83.9,-83.4,-83,-82.5,-82.1,-81.6,-81.1],[41.35,41,40.65,40.3,39.95,39.6,39.2,38.8]],
 MI:[[-89.5,-88.7,-87.7,-86.8,-86,-85.5,-85,-84.5,-84,-83.5],[46.3,45.4,44.9,44.4,43.9,43.4,42.9,42.4]],
 KY:[[-88.5,-88,-87.5,-87,-86.5,-86,-85.5,-85,-84.5,-84,-83.5,-83],[38.3,37.9,37.5,37.1,36.8]],
 TN:[[-89,-88.5,-88,-87.5,-87,-86.5,-86,-85.5,-85,-84.5,-84,-83.5,-83],[36.1,35.7,35.35]],
 WV:[[-82,-81.5,-81,-80.5,-80,-79.5,-79],[39.4,39,38.6,38.2,37.8]],
 VA:[[-82.5,-81.8,-81,-80.5,-80,-79.5,-79,-78.5,-78,-77.5,-77,-76.6],[38.5,38.1,37.7,37.3,36.95]],
 NC:[[-83.5,-83,-82.5,-82,-81.5,-81,-80.5,-80,-79.5,-79,-78.5,-78,-77.5,-77,-76.5],[36.1,35.7,35.3,34.8,34.3]],
 SC:[[-82.7,-82.2,-81.7,-81.2,-80.7,-80.2,-79.7,-79.2],[34.5,34.1,33.7,33.3,32.8]],
 GA:[[-85,-84.6,-84.2,-83.8,-83.4,-83,-82.6,-82.2,-81.8,-81.4],[34.4,34,33.6,33.2,32.8,32.4,32,31.6,31.1]],
 FL:[[-87,-86.3,-85.6,-85,-84.4,-83.8,-83.2,-82.5,-82,-81.5,-81],[30.3,29.8,29.2,28.7,28.2,27.7,27.2,26.7,26.1]],
 AL:[[-87.8,-87.4,-87,-86.6,-86.2,-85.8,-85.4],[34.4,33.9,33.4,32.9,32.4,31.9,31.4,30.9]],
 MS:[[-90.6,-90.2,-89.7,-89.3,-88.9],[34.5,34,33.5,33,32.5,32,31.5,30.9]],
 PA:[[-80,-79.4,-78.8,-78.2,-77.6,-77,-76.4,-75.8],[41.4,40.9,40.4]],
 NY:[[-78.6,-78,-77.4,-76.7,-76.1,-75.5,-74.9,-74.3,-73.8],[44,43.5,43,42.5]],
 NJ:[[-74.7,-74.3],[40.5,40,39.5]],
 MD:[[-78.5,-77.5,-76.7,-76],[39.2,38.6]],
 DE:[[],[39.1]],
 CT:[[-73,-72.4],[41.6]],
 MA:[[-72.7,-72,-71.4,-70.9],[42.3]],
 VT:[[-72.9,-72.4],[44.5,43.9,43.3]],
 NH:[[-71.5],[44.2,43.6,43.1]],
 ME:[[-70.2,-69.4,-68.6],[46,45.2,44.5]]
};

// cities
const cityNames=['Seattle','Portland','San Francisco','Los Angeles','Phoenix','Denver','Dallas and Fort Worth','Houston','Minneapolis and Saint Paul','Chicago','St. Louis','Detroit','Atlanta','Miami','Washington','Philadelphia','New York','Boston'];
const cityCoords=[[-122.33,47.6],[-122.68,45.52],[-122.42,37.77],[-118.25,34.05],[-112.07,33.45],[-104.99,39.74],[-96.8,32.78],[-95.37,29.76],[-93.27,44.98],[-87.63,41.88],[-90.2,38.63],[-83.05,42.33],[-84.39,33.75],[-80.19,25.77],[-77.04,38.9],[-75.16,39.95],[-74,40.71],[-71.06,42.36]];
const labelShift={Phoenix:[-108,-15],Philadelphia:[-160,-15],Washington:[10,16]};

// legend and page text
const legendLabels=['0 to <0.5%','0.5 to <1%','1 to <1.8%','1.8 to <5%','5 to <9%','≥9%'];
const legendColors=['#eff2fd','#cbdbed','#a9c9e0','#7dacd3','#4d7fb8','#285397'];
const legendLimits=[0,0.5,1,1.8,5,9,100];
const navItems=['Home','Publications','About Estimates','Data','Methodology','Research Team','FAQs'];
const totalLabels=[['Total Jewish','population'],['Total Jewish','Adults'],['Jewish Adults','by religion'],['Other Jewish','Adults'],['Total Jewish','Children']];
const totalLow=['7,175,700','','4,253,100','',''];
const totalEst=['7,479,100','5,899,100','4,432,900','1,466,500','1,579,500'];
const totalHigh=['7,791,900','','4,618,300','',''];
const religionLow=['1.7%','4,253,100'];
const religionEst=['1.8%','4,432,900'];
const religionHigh=['1.9%','4,618,300'];

// Albers, fitted to the city dots, returns page pixels
const rad=Math.PI/180,PAR1=29.5*rad,PAR2=45.5*rad,LON0=-98,LAT0=38*rad;
const N=(Math.sin(PAR1)+Math.sin(PAR2))/2,C=Math.cos(PAR1)*Math.cos(PAR1)+2*N*Math.sin(PAR1);
const RHO0=Math.sqrt(C-2*N*Math.sin(LAT0))/N;
const SCALE_X=1945,SCALE_Y=1930,X0=1534,Y0=1012;
function project(p){
	var th=N*(p[0]-LON0)*rad,r=Math.sqrt(C-2*N*Math.sin(p[1]*rad))/N;
	return [X0+SCALE_X*r*Math.sin(th),Y0-SCALE_Y*(RHO0-r*Math.cos(th))];
}
function unproject(p){
	var x=(p[0]-X0)/SCALE_X,y=RHO0+(p[1]-Y0)/SCALE_Y,r=Math.sqrt(x*x+y*y),th=Math.atan2(x,y);
	return [LON0+th/N/rad,Math.asin((C-r*r*N*N)/(2*N))/rad];
}

function closed(r){ return r.concat([r[0]]); }
function inside(p,ring){
	var c=false;
	for(var i=0,j=ring.length-1;i<ring.length;j=i++){
		var a=ring[i],b=ring[j];
		if((a[1]>p[1])!=(b[1]>p[1]) && p[0]<(b[0]-a[0])*(p[1]-a[1])/(b[1]-a[1])+a[0]) c=!c;
	}
	return c;
}
// keeps the parts of a straight line that fall in the state
function clipLine(from,to,rings,out){
	var steps=Math.ceil(Math.max(Math.abs(to[0]-from[0]),Math.abs(to[1]-from[1]))/0.04),run=null;
	for(var i=0;i<=steps;i++){
		var p=[from[0]+(to[0]-from[0])*i/steps,from[1]+(to[1]-from[1])*i/steps];
		if(rings.some(function(r){return inside(p,r);})){
			if(!run) run=[p,p]; else run[1]=p;
		}else if(run){ out.push({coords:run}); run=null; }
	}
	if(run) out.push({coords:run});
}
function bendLat(a,b,lat,rings,out){ // parallels curve in Albers, so cut them every half degree
	for(var x=a;x<b;x+=0.5) clipLine([x,lat],[Math.min(x+0.5,b),lat],rings,out);
}

var features=[],mapData=[];
Object.keys(stateRings).forEach(function(k){
	features.push({type:'Feature',properties:{name:k},geometry:{type:'MultiPolygon',coordinates:stateRings[k].map(function(r){return [closed(r)];})}});
	mapData.push({name:k,value:baseValue});
});
bands.forEach(function(list,b){
	list.forEach(function(r,i){
		var name='b'+b+'_'+i;
		features.push({type:'Feature',properties:{name:name},geometry:{type:'Polygon',coordinates:[closed(r)]}});
		mapData.push({name:name,value:bandValues[b]});
	});
});

var countySegs=[];
Object.keys(countyLines).forEach(function(k){
	var rings=stateRings[k],all=[].concat.apply([],rings);
	var lons=all.map(function(p){return p[0];}),lats=all.map(function(p){return p[1];});
	var w=Math.min.apply(null,lons),e=Math.max.apply(null,lons),s=Math.min.apply(null,lats),n=Math.max.apply(null,lats);
	countyLines[k][0].forEach(function(x){ clipLine([x,s],[x,n],rings,countySegs); });
	countyLines[k][1].forEach(function(y){ bendLat(w,e,y,rings,countySegs); });
});

var borderLines=[];
Object.keys(stateRings).forEach(function(k){
	stateRings[k].forEach(function(r){ borderLines.push({coords:closed(r)}); });
});

// geo layout that keeps project() in page pixels
var x1=1e9,x2=-1e9,y1=1e9,y2=-1e9;
features.forEach(function(f){
	var polys=f.geometry.type=='Polygon'?[f.geometry.coordinates]:f.geometry.coordinates;
	polys.forEach(function(pl){ pl[0].forEach(function(p){
		var q=project(p);
		x1=Math.min(x1,q[0]);x2=Math.max(x2,q[0]);y1=Math.min(y1,q[1]);y2=Math.max(y2,q[1]);
	}); });
});

echarts.registerMap('usa',{type:'FeatureCollection',features:features});
var chart=echarts.init(document.getElementById('map'));
chart.setOption({
	animation:false,
	visualMap:{show:false,type:'piecewise',seriesIndex:0,
		pieces:legendColors.map(function(c,i){return {gte:legendLimits[i],lt:legendLimits[i+1],color:c};})},
	geo:{map:'usa',silent:true,roam:false,projection:{project:project,unproject:unproject},
		layoutCenter:[(x1+x2)/2,(y1+y2)/2],layoutSize:Math.max(x2-x1,y2-y1),
		itemStyle:{areaColor:'#eff2fd',borderWidth:0,borderColor:'transparent'},
		emphasis:{disabled:true},select:{disabled:true}},
	series:[
		{type:'map',geoIndex:0,data:mapData,silent:true},
		{type:'lines',coordinateSystem:'geo',polyline:true,silent:true,z:3,data:countySegs,
			lineStyle:{color:'#d8d8d8',width:1,opacity:1}},
		{type:'lines',coordinateSystem:'geo',polyline:true,silent:true,z:4,data:borderLines,
			lineStyle:{color:'#666666',width:3,opacity:1,join:'round'}},
		{type:'scatter',coordinateSystem:'geo',silent:true,z:6,symbolSize:14,
			itemStyle:{color:'#000',borderColor:'#fff',borderWidth:5,opacity:1},
			data:cityNames.map(function(n,i){
				var s=labelShift[n]||[10,-15];
				return {name:n,value:cityCoords[i],label:{show:true,formatter:n,position:[7+s[0],7+s[1]],align:'left',verticalAlign:'middle',
					fontFamily:'Inter',fontWeight:300,fontSize:26,color:'#111'}};
			})}
	]
});

// page furniture
var page=document.getElementById('page');
function box(x,y,w,h,c){
	var d=document.createElement('div');d.className='box';
	d.style.cssText='left:'+x+'px;top:'+y+'px;width:'+w+'px;height:'+h+'px;background:'+c;
	page.appendChild(d);return d;
}
function text(s,x,cy,w,size,weight,color,italic){
	var d=document.createElement('div');d.className='t';d.textContent=s;
	d.style.cssText='left:'+x+'px;top:'+cy+'px;font-size:'+size+'px;font-weight:'+weight+';color:'+color+(italic?';font-style:italic':'');
	page.appendChild(d);
	if(w && s.length>1){ d.style.letterSpacing=((w-d.getBoundingClientRect().width)/(s.length-1))+'px'; }
	return d;
}
var NAVY='#12306f',INK='#333333',THIN=300;
box(0,0,2328,196,'#f4f4f4');
text('American Jewish Population Project',649,61,1029,56,700,INK);
var navX=[[331,113],[493,231],[773,309],[1131,86],[1269,247],[1566,282],[1897,98]];
navItems.forEach(function(n,i){ text(n,navX[i][0],136,navX[i][1],37,500,i==0?'#000':NAVY); });
box(331,168,113,8,'#5a5a5a');

text('United States of America',34,305,626,52,700,INK);
box(34,414,640,8,'#595959');
text('Total Jewish population*',34,481,412,34,700,INK);
text('LOW',237,539,48,21,THIN,'#222');text('ESTIMATE',383,539,103,21,600,'#111');text('HIGH',529,539,53,21,THIN,'#222');
var rowTop=[558,634,710,786,862],indent=[38,54,70,70,54];
var lineW=[[121,109],[121,64],[137,104],[131,64],[121,85]];
var lowW=[103,0,106,0,0],estW=[113,115,122,116,112],highW=[106,0,110,0,0];
totalLabels.forEach(function(lab,i){
	text(lab[0],indent[i],rowTop[i]+23,lineW[i][0],22,THIN,'#222');
	text(lab[1],indent[i],rowTop[i]+49,lineW[i][1],22,THIN,'#222');
	box(234,rowTop[i],143,72,'#f4f4f4');box(381,rowTop[i],142,72,'#f4f4f4');box(527,rowTop[i],143,72,'#f4f4f4');
	var cy=rowTop[i]+36;
	if(totalLow[i]) text(totalLow[i],244,cy,lowW[i],26,THIN,'#222');
	text(totalEst[i],390,cy,estW[i],26,700,'#111');
	if(totalHigh[i]) text(totalHigh[i],537,cy,highW[i],26,THIN,'#222');
});
text('*Includes adjustment for children and other Jewish',35,978,616,25,THIN,'#222',true);
text('adults. See',35,1007,128,25,THIN,'#222',true);
text('About Estimates',172,1007,231,25,400,NAVY,true);
text('.',403,1007,0,25,THIN,'#222',true);

box(34,1086,640,8,'#c8c8c8');
text('Adults who identify their religion as',34,1153,602,34,700,INK);
text('Jewish',34,1191,114,34,700,INK);
text('LOW',40,1249,49,21,THIN,'#222');text('ESTIMATE',252,1249,103,21,600,'#111');text('HIGH',464,1249,53,21,THIN,'#222');
var relTop=[1268,1322],relLow=[47,106],relEst=[52,121],relHigh=[49,110],relEstX=260,relHighX=[471,472];
religionLow.forEach(function(v,i){
	box(38,relTop[i],208,50,'#f4f4f4');box(250,relTop[i],208,50,'#f4f4f4');box(462,relTop[i],208,50,'#f4f4f4');
	text(v,48,relTop[i]+26,relLow[i],26,THIN,'#222');
	text(religionEst[i],relEstX,relTop[i]+26,relEst[i],26,700,'#111');
	text(religionHigh[i],relHighX[i],relTop[i]+26,relHigh[i],26,THIN,'#222');
});
box(34,1416,640,8,'#c8c8c8');
text('How do Jewish adults compare',34,1487,525,34,700,INK);
var help=box(612,1463,32,32,'#000');help.style.borderRadius='50%';
text('?',621,1479,0,24,800,'#fff');

text('TOTAL JEWISH POPULATION',858,251,302,20,700,'#111');
var legX=[[862.5,144],[1009.6,139.5],[1153.6,142.5],[1300.6,138],[1443,139.5],[1587,139.5]];
var legText=[[873,122],[1023,113],[1168,110],[1311,116],[1462,101],[1633,48]];
var legInk=['#222','#222','#222','#f4f7fb','#f4f7fb','#fff'];
legendLabels.forEach(function(l,i){
	box(legX[i][0],288,legX[i][1],64,legendColors[i]);
	text(l,legText[i][0],320,legText[i][1],24,THIN,legInk[i]);
});
text('View:',1740,262,65,25,THIN,'#222');
text('States',1823,262,76,25,THIN,NAVY);
text('Metro Areas',1918,262,146,25,THIN,NAVY);
text('County Regions',2083,262,199,25,700,'#000');

var sb=box(1980,298,312,54,'#fff');sb.style.border='2px solid #bbb';sb.style.boxSizing='border-box';
text('Search...',1987,327,88,23,THIN,'#b5b5b5');
function btn(y,h,svg){
	var d=document.createElement('div');d.className='btn';
	d.style.cssText='left:754px;top:'+y+'px;width:64px;height:'+h+'px';
	d.innerHTML=svg;page.appendChild(d);
}
btn(292,64,'<svg width="30" height="28" viewBox="0 0 30 28"><path d="M5 4v20" stroke="#111" stroke-width="4"/><path d="M26 14H12M18 7l-7 7 7 7" fill="none" stroke="#111" stroke-width="5"/></svg>');
btn(427,63,'<svg width="26" height="26" viewBox="0 0 26 26"><path d="M13 2v22M2 13h22" stroke="#111" stroke-width="5"/></svg>');
btn(489,62,'<svg width="26" height="26" viewBox="0 0 26 26"><path d="M2 13h22" stroke="#111" stroke-width="5"/></svg>');
btn(573,62,'<svg width="30" height="30" viewBox="0 0 30 30"><path d="M8 6a11 11 0 1 1-1 16" fill="none" stroke="#111" stroke-width="4"/><path d="M3 4h9v9z" fill="#111"/></svg>');
page.insertAdjacentHTML('beforeend','<svg class="box" style="left:2246px;top:304px" width="40" height="36" viewBox="0 0 40 36"><circle cx="15" cy="14" r="10" fill="none" stroke="#666" stroke-width="5"/><path d="M23 22l10 11" stroke="#666" stroke-width="6"/></svg>');
</script>
</body>
</html>
